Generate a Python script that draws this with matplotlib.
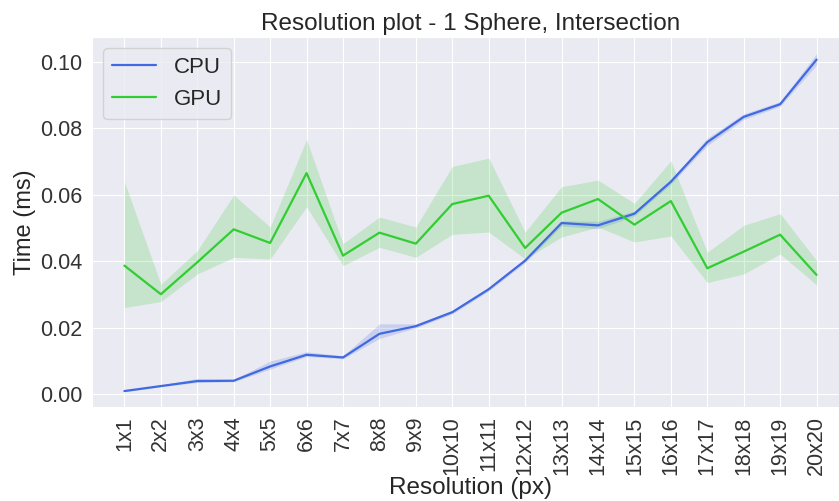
import matplotlib

matplotlib.use("Agg")
import matplotlib.pyplot as plt
import numpy as np
import seaborn as sns

# Mean time per resolution and the spread around it (ms)
resolutions = [f"{n}x{n}" for n in range(1, 21)]

cpu_mean = [0.0010, 0.0025, 0.0040, 0.0041, 0.0084, 0.0119, 0.0111, 0.0182, 0.0205, 0.0247,
            0.0316, 0.0402, 0.0515, 0.0508, 0.0543, 0.0639, 0.0758, 0.0834, 0.0872, 0.1006]
cpu_low = [0.0008, 0.0023, 0.0036, 0.0038, 0.0076, 0.0114, 0.0107, 0.0168, 0.0200, 0.0242,
           0.0311, 0.0396, 0.0506, 0.0498, 0.0536, 0.0632, 0.0748, 0.0826, 0.0866, 0.0990]
cpu_high = [0.0012, 0.0028, 0.0048, 0.0045, 0.0100, 0.0128, 0.0116, 0.0212, 0.0212, 0.0253,
            0.0322, 0.0408, 0.0522, 0.0520, 0.0551, 0.0647, 0.0770, 0.0843, 0.0880, 0.1024]

gpu_mean = [0.0387, 0.0301, 0.0397, 0.0496, 0.0455, 0.0665, 0.0417, 0.0486, 0.0453, 0.0572,
            0.0597, 0.0440, 0.0546, 0.0587, 0.0510, 0.0581, 0.0379, 0.0429, 0.0480, 0.0359]
gpu_low = [0.0261, 0.0279, 0.0362, 0.0412, 0.0407, 0.0564, 0.0387, 0.0442, 0.0412, 0.0481,
           0.0488, 0.0407, 0.0473, 0.0503, 0.0458, 0.0476, 0.0336, 0.0362, 0.0422, 0.0329]
gpu_high = [0.0639, 0.0331, 0.0432, 0.0599, 0.0503, 0.0766, 0.0453, 0.0533, 0.0503, 0.0685,
            0.0710, 0.0488, 0.0624, 0.0644, 0.0574, 0.0702, 0.0427, 0.0508, 0.0543, 0.0402]

sns.set_style("darkgrid")
plt.rcParams["font.family"] = ["Liberation Sans", "DejaVu Sans"]

fig = plt.figure(figsize=(8.39, 5.01), dpi=100)
ax = fig.add_axes([92 / 839, (501 - 406.7) / 501, (849 - 92) / 839, (406.7 - 37) / 501])

x = np.arange(len(resolutions))
series = [
    ("CPU", cpu_mean, cpu_low, cpu_high, "royalblue"),
    ("GPU", gpu_mean, gpu_low, gpu_high, "limegreen"),
]
for label, mean, low, high, color in series:
    ax.fill_between(x, low, high, color=color, alpha=0.2, linewidth=0)
    ax.plot(x, mean, color=color, linewidth=1.6, label=label)

ax.set_xticks(x)
ax.set_xticklabels(resolutions, rotation=90)
ax.set_xlim(-0.89, len(resolutions) - 1 + 0.89)
ax.set_ylim(-0.0037, 0.1074)
ax.set_yticks([0.0, 0.02, 0.04, 0.06, 0.08, 0.10])
ax.yaxis.set_major_formatter(matplotlib.ticker.FormatStrFormatter("%.2f"))
ax.tick_params(labelsize=15.5, colors="#333333")

ax.set_title("Resolution plot - 1 Sphere, Intersection", fontsize=17.5, color="#262626", pad=5)
ax.set_xlabel("Resolution (px)", fontsize=17.5, color="#262626", labelpad=1)
ax.set_ylabel("Time (ms)", fontsize=17, color="#262626", labelpad=3)

ax.legend(loc="upper left", fontsize=16, frameon=True)

fig.savefig("out.png", dpi=100)
